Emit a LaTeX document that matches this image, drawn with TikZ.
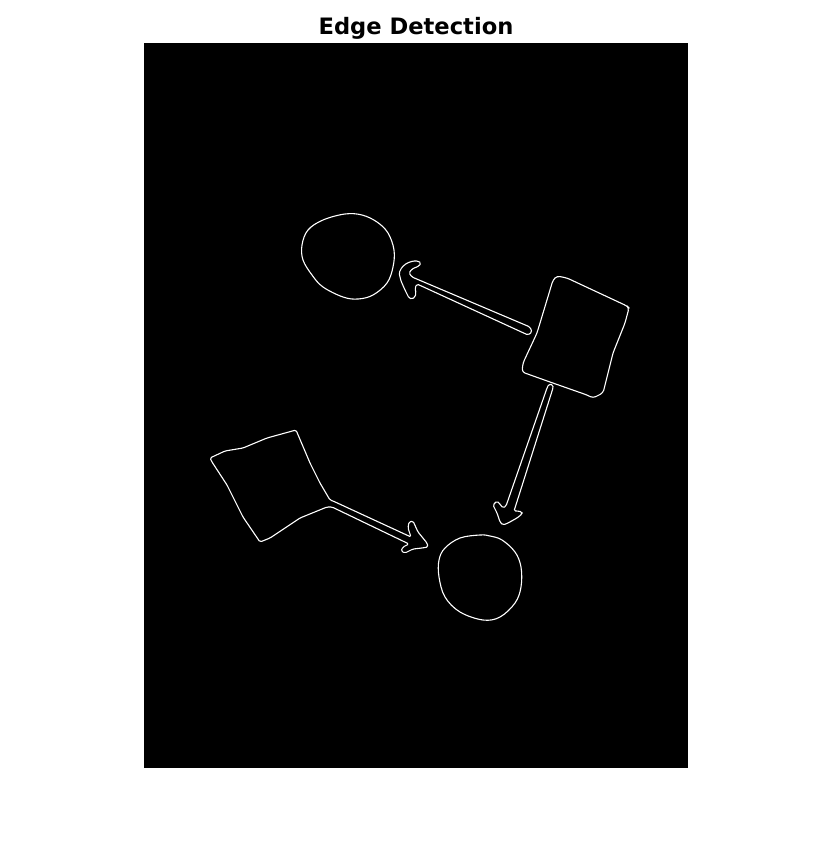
\documentclass[tikz,border=0pt]{standalone}
\usepackage{fontspec}
\setmainfont{DejaVu Sans}
\usetikzlibrary{positioning}

\begin{document}
\begin{tikzpicture}[x=1pt, y=-1pt,
  edge/.style={draw=white, line width=1.1pt, line join=round},
  panel/.style={fill=black, draw=none}]
\useasboundingbox (0,0) rectangle (834,867);
\fill[white] (0,0) rectangle (834,867);
\node[font=\bfseries\fontsize{22.6}{24}\selectfont, anchor=base] (title) at (416,34.5) {Edge Detection};
\path[panel] (144,43) rectangle (688,768);
% top left circle
\draw[edge] plot[smooth cycle, tension=0.6] coordinates {(345,214) (323,220) (308,230) (302,245) (303,260) (312,275) (323,287) (343,297) (358,299) (373,295) (387,283) (393,267) (394,250) (388,233) (377,222) (362,215)};
% arrow to top left circle
\draw[edge, rounded corners=1.5pt] (399,273) -- (402,267) -- (407,263) -- (413,261) -- (418,261) -- (421,263) -- (419,266) -- (412,269) -- (409,273) -- (412,277) -- (530,327) -- (532,332) -- (528,335) -- (417,284) -- (415,288) -- (416,293) -- (415,297) -- (412,299) -- (409,298) -- (405,290) -- (401,281) -- cycle;
% top right square
\draw[edge, rounded corners=3pt] (553,280) -- (537,333) -- (523,363) -- (522,372) -- (550,382) -- (587,395) -- (593,398) -- (603,393) -- (613,353) -- (625,323) -- (629,308) -- (627,306) -- (567,278) -- (557,276) -- cycle;
% arrow to bottom circle
\draw[edge, rounded corners=1.5pt] (547,388) -- (549,384) -- (553,385) -- (553,388) -- (514,511) -- (518,511) -- (522,512) -- (522,514) -- (517,518) -- (508,523) -- (503,525) -- (500,522) -- (497,513) -- (493,505) -- (497,501) -- (499,503) -- (503,508) -- (506,506) -- cycle;
% bottom left square with arrow
\draw[edge, rounded corners=1.5pt] (210,458) -- (225,451) -- (243,448) -- (267,438) -- (296,430) -- (310,463) -- (320,483) -- (330,500) -- (333,501) -- (411,537) -- (408,528) -- (409,522) -- (413,521) -- (418,532) -- (427,543) -- (428,547) -- (422,548) -- (413,549) -- (405,553) -- (401,551) -- (403,547) -- (409,544) -- (332,507) -- (327,507) -- (300,518) -- (270,538) -- (260,542) -- (243,517) -- (227,485) -- (212,462) -- cycle;
% bottom circle
\draw[edge] plot[smooth cycle, tension=0.6] coordinates {(480,535) (460,538) (445,548) (439,560) (439,577) (445,597) (460,612) (483,620) (500,617) (515,603) (521,587) (521,567) (515,552) (502,540) (490,536)};
\end{tikzpicture}
\end{document}
